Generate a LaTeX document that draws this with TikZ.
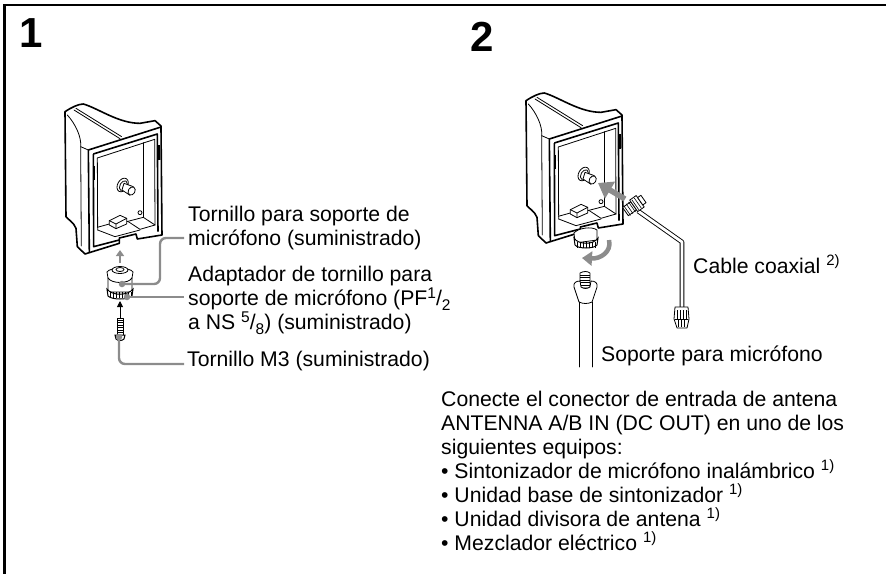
\documentclass[tikz,border=0pt]{standalone}
\usepackage{fontspec}
\setmainfont{Liberation Sans}
\usetikzlibrary{arrows.meta}
\definecolor{leadgray}{gray}{0.55}
\newcommand{\sfrac}[2]{\raisebox{7pt}{\fontsize{15.5}{15}\selectfont #1}/\raisebox{-5pt}{\fontsize{15.5}{15}\selectfont #2}}
\newcommand{\upn}[1]{\raisebox{8pt}{\fontsize{15}{15}\selectfont #1}}
\tikzset{
 lbl/.style={anchor=base west,inner sep=0pt,font=\fontsize{21.2}{24}\selectfont},
 numlbl/.style={anchor=base west,inner sep=0pt,font=\fontsize{42}{42}\selectfont\bfseries},
 leader/.style={draw=leadgray,line width=2.4pt,rounded corners=6pt},
 dot/.style={circle,fill=leadgray,inner sep=0pt,minimum size=6.5pt},
 ln/.style={line width=.8pt,line join=round,line cap=round},
 thick line/.style={line width=1.6pt,line join=round},
 bigarrow/.style={draw=leadgray,line width=5.5pt,-{Triangle[length=14pt,width=19pt]}},
 curvearrow/.style={draw=leadgray,line width=4.5pt,-{Triangle[length=10pt,width=14pt]}},
 smallgray/.style={draw=leadgray,line width=2.6pt,-{Triangle[length=6pt,width=8pt]}},
 pics/unitbody/.style={code={
  \draw[thick line,fill=white] (75,65) .. controls (95,52) and (115,42) .. (130,42)
     .. controls (175,55) and (235,100) .. (300,100) -- (345,92) -- (363,108) -- (366,435)
     -- (292,447) -- (288,432) -- (238,444) -- (238,460) -- (135,492) -- (112,470)
     -- (108,415) .. controls (100,395) and (85,390) .. (78,380) -- cycle;
  \draw[ln] (82,75) .. controls (105,100) and (125,140) .. (122,170) -- (124,468);
  \draw[ln] (122,170) -- (145,180);
  \draw[ln] (108,55) -- (245,140);
  \draw[ln] (102,60) -- (240,146);
  \draw[thick line] (145,180) -- (360,112);
  \draw[thick line] (145,180) -- (148,487);
  \draw[thick line] (160,192) -- (352,132) -- (354,425);
  \draw[thick line] (160,192) -- (161,470) -- (238,450);
  \draw[ln] (172,204) -- (344,148) -- (345,405);
  \draw[ln] (172,204) -- (173,420);
  \draw[ln] (310,158) -- (310,380);
  \draw[ln] (173,420) -- (225,440);
  \draw[ln] (172,412) -- (208,402);
  \draw[ln] (260,395) -- (310,382) -- (345,405);
  \draw[ln] (265,395) -- (300,418) -- (345,405);
  \draw[ln] (225,440) -- (300,420);
  \draw[ln,fill=white] (208,392) -- (240,376) -- (260,385) -- (260,402) -- (228,416) -- (208,405) -- cycle;
  \draw[ln] (208,392) -- (228,402) -- (260,385) (228,402) -- (228,416);
  \draw[ln] (300,368) circle (6);
  \draw[line width=1.7pt] (356,165) -- (356,210);
  \draw[line width=1.7pt] (162,228) -- (162,270);
  \draw[ln,fill=white] (248,285) ellipse [x radius=15,y radius=22,rotate=-30];
  \draw[ln,fill=white] (250,287) ellipse [x radius=10,y radius=16,rotate=-30];
  \draw[ln,fill=white] (252,280) -- (280,290) -- (270,316) -- (246,300) -- cycle;
  \draw[ln,fill=white] (275,303) ellipse [x radius=10,y radius=13,rotate=-30];
 }},
}
\begin{document}
\begin{tikzpicture}[x=1pt,y=-1pt]
\useasboundingbox (0,0) rectangle (886,574);
% frame
\draw[line width=2.2pt] (886,5) -- (4.5,5) -- (4.5,574);
\node[numlbl] (n1) at (19,47) {1};
\node[numlbl] (n2) at (470,51) {2};
% unit 1
\begin{scope}[shift={(40,90)},x=.3333pt,y=-.3333pt]
 \pic {unitbody};
\end{scope}
% unit 2
\begin{scope}[shift={(501,79)},x=.3333pt,y=-.3333pt]
 \pic {unitbody};
\end{scope}
% arrow up from adapter
\draw[smallgray] (120,263) -- (120,250);
% adapter 1
\draw[ln,fill=white] (107,272) .. controls (110,267) and (130,267) .. (133,272) -- (132,278)
   -- (132,292) -- (108,292) -- (108,278) -- cycle;
\draw[ln] (108,278) .. controls (112,284) and (128,284) .. (132,278);
\draw[ln,fill=white] (120,270) ellipse [x radius=8,y radius=3.5];
\draw[ln,fill=white] (120,269.5) ellipse [x radius=4,y radius=2];
\draw[line width=1pt,fill=white] (107,289) .. controls (112,296) and (128,296) .. (133,289) -- (132,296) .. controls (128,300) and (112,300) .. (108,296) -- cycle;
\foreach \x in {110,113,...,131} \draw[line width=.6pt] (\x,292) -- (\x,298);
% black arrow
\draw[line width=.9pt,-{Triangle[length=6pt,width=6pt]}] (120,318) -- (120,301);
% screw
\draw[ln,fill=white] (117,318) rectangle (123,335);
\foreach \y in {320,322.5,...,333} \draw[line width=.6pt] (117,\y) -- (123,\y);
\draw[line width=1pt,fill=white] (115,335) -- (125,335) -- (124,339) .. controls (122,341) and (118,341) .. (116,339) -- cycle;
% labels 1
\node[lbl] (t1a) at (188,221) {Tornillo para soporte de};
\node[lbl] (t1b) at (188,245) {micrófono (suministrado)};
\node[lbl] (t2a) at (188,281) {Adaptador de tornillo para};
\node[lbl] (t2b) at (188,305) {soporte de micrófono (PF\sfrac{1}{2}};
\node[lbl] (t2c) at (188,329) {a NS \sfrac{5}{8}) (suministrado)};
\node[lbl] (t3) at (187,366) {Tornillo M3 (suministrado)};
% leaders
\node[dot] (d1) at (122,284) {};
\node[dot] (d2) at (127,297) {};
\node[dot] (d3) at (119,337) {};
\coordinate (e1) at (184,238);
\coordinate (e2) at (184,297);
\coordinate (e3) at (184,364);
\draw[leader] (d1.center) -- (160,284) -- (160,238) -- (e1);
\draw[leader] (d2.center) -- (e2);
\draw[leader] (d3.center) -- (119,364) -- (e3);
% adapter 2
\draw[ln,fill=white] (574,233) .. controls (578,228) and (592,226) .. (597,230) -- (597,240) -- (575,243) -- cycle;
\draw[line width=1pt,fill=white] (574,238) .. controls (578,245) and (594,245) .. (598,238) -- (597,245) .. controls (594,249) and (578,249) .. (575,245) -- cycle;
\foreach \x in {577,580,...,596} \draw[line width=.6pt] (\x,242) -- (\x,247.5);
% big arrow
\draw[bigarrow] (625,199) -- (598,183);
% curved arrow
\draw[curvearrow] (609,240) .. controls (612,252) and (600,259) .. (582,258);
% stand
\draw[ln,fill=white] (580,273) .. controls (584,271) and (587,271) .. (590,273) -- (590,288) -- (580,288) -- cycle;
\foreach \y in {275,277.5,...,287} \draw[line width=.6pt] (580,\y) -- (590,\y);
\draw[ln,fill=white] (579,302) -- (574,287) .. controls (573,283) and (576,281) .. (580,281) -- (581,287) .. controls (584,289) and (587,289) .. (590,287) -- (591,281) .. controls (595,281) and (598,283) .. (597,287) -- (592,302) .. controls (588,304) and (583,304) .. (579,302) -- cycle;
\draw[ln] (579,302) -- (579,367);
\draw[ln] (592,302) -- (592,367);
% cable
\draw[line width=4.6pt,line join=round] (638,211) -- (682,242) -- (682,310);
\draw[line width=2.8pt,white,line join=round] (638,211) -- (682,242) -- (682,310);
% cable connector near unit
\begin{scope}[shift={(632,207)},rotate=35]
 \draw[ln,fill=white] (-8,-5) rectangle (2,5);
 \draw[ln,fill=white] (2,-7) rectangle (10,7);
 \foreach \x in {-6,-3,0,4,7} \draw[line width=.6pt] (\x,-6) -- (\x,6);
 \draw[ln,fill=white] (10,-4.5) rectangle (14,4.5);
\end{scope}
% cable end connector
\draw[ln,fill=white] (675,307) -- (688,307) -- (689,319) -- (687,328) -- (677,328) -- (674,319) -- cycle;
\foreach \x in {677,680,683,686} \draw[line width=.6pt] (\x,310) -- (\x,319);
\draw[ln] (675,319) -- (688,319);
\foreach \x in {678,681,684} \draw[line width=.6pt] (\x,320) -- (\x,327);
% labels 2
\node[lbl] (c1) at (693,273) {Cable coaxial \upn{2)}};
\node[lbl] (c2) at (601,361) {Soporte para micrófono};
\node[lbl] (p1) at (441,406) {Conecte el conector de entrada de antena};
\node[lbl] (p2) at (441,430) {ANTENNA A/B IN (DC OUT) en uno de los};
\node[lbl] (p3) at (441,454) {siguientes equipos:};
\node[lbl] (p4) at (441,478) {• Sintonizador de micrófono inalámbrico \upn{1)}};
\node[lbl] (p5) at (441,502) {• Unidad base de sintonizador \upn{1)}};
\node[lbl] (p6) at (441,526) {• Unidad divisora de antena \upn{1)}};
\node[lbl] (p7) at (441,550) {• Mezclador eléctrico \upn{1)}};
\end{tikzpicture}
\end{document}
